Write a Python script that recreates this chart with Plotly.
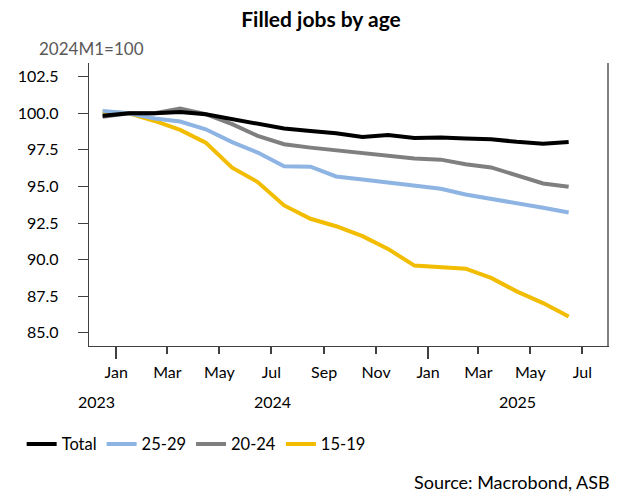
import plotly.graph_objects as go

months = ["2023-12-16", "2024-01-16", "2024-02-15", "2024-03-16", "2024-04-15", "2024-05-16",
          "2024-06-15", "2024-07-16", "2024-08-16", "2024-09-15", "2024-10-16", "2024-11-15",
          "2024-12-16", "2025-01-16", "2025-02-14", "2025-03-16", "2025-04-15", "2025-05-16",
          "2025-06-15"]

total = [99.82, 100.0, 100.0, 100.09, 99.93, 99.59, 99.25, 98.95, 98.79, 98.63, 98.38, 98.51,
         98.31, 98.34, 98.27, 98.22, 98.05, 97.92, 98.04]
age_25_29 = [100.16, 100.0, 99.64, 99.43, 98.9, 98.03, 97.31, 96.37, 96.35, 95.68, 95.48, 95.25,
             95.02, 94.84, 94.45, 94.16, 93.88, 93.54, 93.22]
age_20_24 = [99.75, 100.0, 100.0, 100.32, 99.93, 99.25, 98.45, 97.88, 97.65, 97.48, 97.31, 97.08,
             96.9, 96.83, 96.51, 96.3, 95.78, 95.2, 94.98]
age_15_19 = [100.1, 100.0, 99.47, 98.86, 97.99, 96.28, 95.3, 93.7, 92.79, 92.28, 91.6, 90.73,
             89.59, 89.5, 89.38, 88.75, 87.83, 87.03, 86.12]

tick_dates = ["2024-01-01", "2024-03-01", "2024-05-01", "2024-07-01", "2024-09-01", "2024-11-01",
              "2025-01-01", "2025-03-01", "2025-05-01", "2025-07-01"]
tick_labels = ["Jan", "Mar", "May", "Jul", "Sep", "Nov", "Jan", "Mar", "May", "Jul"]
year_dates = ["2023-12-09", "2024-07-02", "2025-04-16"]
year_labels = ["2023", "2024", "2025"]
jan_ticks = ["2024-01-01", "2025-01-01"]
y_ticks = [85.0, 87.5, 90.0, 92.5, 95.0, 97.5, 100.0, 102.5]

FONT = "Lato"
series = [
    ("15-19", age_15_19, "#F2BC00", 4),
    ("25-29", age_25_29, "#8DB4E2", 4),
    ("20-24", age_20_24, "#7F7F7F", 4),
    ("Total", total, "#000000", 4),
]
rank = {"Total": 1, "25-29": 2, "20-24": 3, "15-19": 4}

TOP, BOTTOM = 63, 346.5
PH = BOTTOM - TOP

fig = go.Figure()
for name, vals, color, w in series:
    fig.add_trace(go.Scatter(x=months, y=vals, mode="lines", name=name,
                             line=dict(color=color, width=w), legendrank=rank[name]))

fig.update_layout(
    width=624, height=504,
    margin=dict(l=89, r=17, t=TOP, b=504 - BOTTOM),
    paper_bgcolor="white", plot_bgcolor="white",
    font=dict(family=FONT, size=16, color="#000000"),
    title=dict(text="<b>Filled jobs by age</b>", x=321/624, xanchor="center",
               y=1 - 20/504, yanchor="middle", font=dict(size=21, color="#000000")),
    showlegend=True,
    legend=dict(orientation="h", x=-0.13, xanchor="left", y=-(445 - BOTTOM) / PH,
                yanchor="middle", font=dict(size=16.5), itemwidth=30,
                bgcolor="rgba(0,0,0,0)", traceorder="normal"),
    xaxis=dict(type="date", range=["2023-11-30", "2025-07-30"],
               tickmode="array", tickvals=tick_dates, ticktext=tick_labels,
               ticks="outside", ticklen=7, tickwidth=1.5, tickcolor="#404040",
               showline=True, linecolor="#404040", linewidth=1.3,
               showgrid=False, zeroline=False, ticklabelstandoff=5,
               tickfont=dict(size=16)),
    xaxis2=dict(type="date", overlaying="x", matches="x", side="bottom",
                tickmode="array", tickvals=jan_ticks, ticks="outside", ticklen=12,
                tickwidth=1.5, tickcolor="#404040", showticklabels=False,
                showline=False, showgrid=False, zeroline=False),
    yaxis=dict(range=[84.1, 103.43], tickmode="array", tickvals=y_ticks,
               tickformat=".1f", ticks="outside", ticklen=10, tickwidth=1.3,
               tickcolor="#404040", showline=True, linecolor="#404040", linewidth=1.3,
               showgrid=False, zeroline=False, ticklabelstandoff=16,
               tickfont=dict(size=16)),
    yaxis2=dict(overlaying="y", matches="y", side="right", showline=True,
                linecolor="#808080", linewidth=2, showticklabels=False, ticks="",
                showgrid=False, zeroline=False),
)

# invisible helper trace so the overlay axes are drawn
fig.add_trace(go.Scatter(x=[months[0]], y=[total[0]], xaxis="x2", yaxis="y2",
                         mode="markers", marker=dict(opacity=0), showlegend=False,
                         hoverinfo="skip"))

annotations = [
    dict(text="2024M1=100", xref="paper", yref="paper", x=(37 - 89) / 518, xanchor="left",
         y=1 + (TOP - 48) / PH, yanchor="middle", showarrow=False,
         font=dict(size=17, color="#595959")),
    dict(text="Source: Macrobond, ASB", xref="paper", yref="paper", x=(612 - 89) / 518,
         xanchor="right", y=-(483 - BOTTOM) / PH, yanchor="middle", showarrow=False,
         font=dict(size=18, color="#000000")),
]
for d, t in zip(year_dates, year_labels):
    annotations.append(dict(text=t, xref="x", yref="paper", x=d, xanchor="center",
                            y=-(402 - BOTTOM) / PH, yanchor="middle", showarrow=False,
                            font=dict(size=16, color="#000000")))
fig.update_layout(annotations=annotations)

fig.write_html("out.html", config={"displayModeBar": False},
               post_script="document.body.style.margin='0';document.body.style.padding='0';")
